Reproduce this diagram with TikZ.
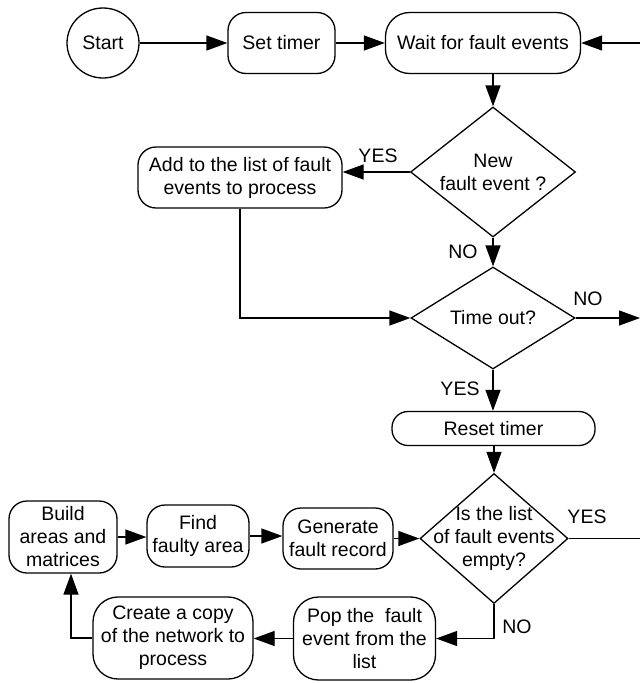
\documentclass[tikz,border=0pt]{standalone}
\usepackage{fontspec}
\setmainfont{Liberation Sans}
\usetikzlibrary{shapes.geometric,arrows.meta}
\begin{document}
\begin{tikzpicture}[x=1pt,y=-1pt,
 every node/.style={font=\fontsize{19.5}{23}\selectfont, align=center},
 box/.style={draw, line width=1.3pt, rounded corners=18pt, inner sep=0pt},
 dia/.style={draw, diamond, line width=1.3pt, inner sep=0pt},
 lbl/.style={inner sep=0pt},
 arr/.style={line width=1.3pt, -{Triangle[length=21pt,width=15pt]}},
 ln/.style={line width=1.3pt}]
\useasboundingbox (0,0) rectangle (640,683);
% nodes
\node[draw,ellipse,line width=1.3pt,minimum width=72pt,minimum height=70pt,inner sep=0pt] (start) at (103,43) {Start};
\node[box,minimum width=107pt,minimum height=61pt] (set) at (281.5,43) {Set timer};
\node[box,minimum width=195pt,minimum height=61pt,rounded corners=24pt] (wait) at (483,43) {Wait for fault events};
\node[dia,minimum width=165pt,minimum height=130pt] (d1) at (493,172) {};
\node[lbl] at (d1) {New\\fault event ?};
\node[box,minimum width=204pt,minimum height=61pt] (add) at (240,177.5) {Add to the list of fault\\events to process};
\node[dia,minimum width=164pt,minimum height=102pt] (d2) at (493,318) {};
\node[lbl] at (d2) {Time out?};
\node[box,minimum width=203pt,minimum height=34pt,rounded corners=16pt] (reset) at (493.5,428.5) {Reset timer};
\node[dia,minimum width=148pt,minimum height=130pt] (d3) at (494,538.5) {};
\node[lbl] at (d3) {Is the list\\of fault events\\empty?};
\node[box,minimum width=108pt,minimum height=72pt] (build) at (63,537) {Build\\areas and\\matrices};
\node[box,minimum width=102pt,minimum height=62pt] (find) at (198,536) {Find\\faulty area};
\node[box,minimum width=110pt,minimum height=61pt] (gen) at (338,538.5) {Generate\\fault record};
\node[box,minimum width=160pt,minimum height=82pt,rounded corners=25pt] (create) at (173,638) {Create a copy\\of the network to\\process};
\node[box,minimum width=142pt,minimum height=83pt,rounded corners=25pt] (pop) at (364.5,638.5) {Pop the\ \ fault\\event from the\\list};
% free ends
\coordinate (e1) at (640,43);
\coordinate (e2) at (640,318);
\coordinate (e3) at (640,538.5);
% connectors
\draw[arr] (start.east) -- (start.east -| set.west);
\draw[arr] (set.east) -- (set.east -| wait.west);
\draw[arr] (e1) -- (e1 -| wait.east);
\draw[arr] (wait.south -| d1.north) -- (d1.north);
\draw[arr] (d1.west) -- (d1.west -| add.east);
\draw[arr] (d1.south) -- (d2.north);
\draw[arr] (add.south) |- (d2.west);
\draw[arr] (d2.east) -- (e2);
\draw[arr] (d2.south) -- (reset.north -| d2.south);
\draw[arr] (reset.south -| d3.north) -- (d3.north);
\draw[ln] (d3.east) -- (e3);
\draw[arr] (d3.south) |- (pop.east);
\draw[arr] (pop.west) -- (pop.west -| create.east);
\draw[arr] (create.west) -| ([xshift=8pt]build.south);
\draw[arr] (build.east) -- (build.east -| find.west);
\draw[arr] (find.east) -- (find.east -| gen.west);
\draw[arr] (gen.east) -- (gen.east -| d3.west);
% labels
\node[lbl] at (378,156) {YES};
\node[lbl] at (463,252) {NO};
\node[lbl] at (588,299) {NO};
\node[lbl] at (460,389) {YES};
\node[lbl] at (587,517) {YES};
\node[lbl] at (517,627) {NO};
\end{tikzpicture}
\end{document}
